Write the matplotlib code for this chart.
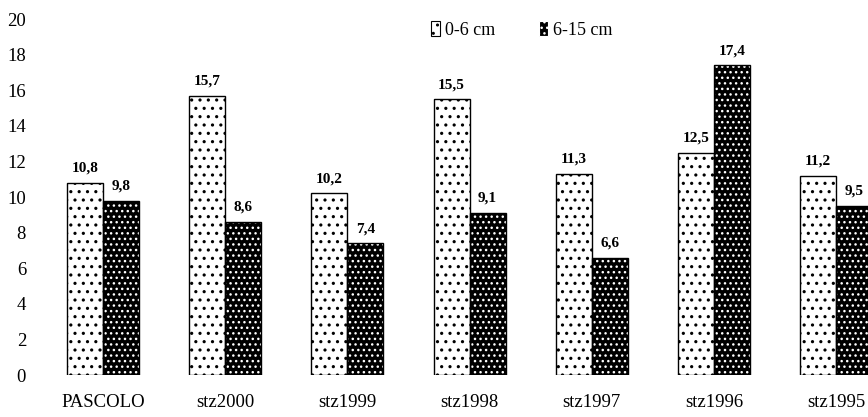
import matplotlib
matplotlib.use("Agg")
import matplotlib.pyplot as plt
import numpy as np
from matplotlib.patches import Patch

categories = ["PASCOLO", "stz2000", "stz1999", "stz1998", "stz1997", "stz1996", "stz1995"]
shallow = [10.8, 15.7, 10.2, 15.5, 11.3, 12.5, 11.2]   # 0-6 cm
deep = [9.8, 8.6, 7.4, 9.1, 6.6, 17.4, 9.5]            # 6-15 cm
labels = ["0-6 cm", "6-15 cm"]

plt.rcParams['font.family'] = ['Liberation Serif', 'DejaVu Serif']

fig = plt.figure(figsize=(8.68, 4.17), dpi=100)
ax = fig.add_axes([40/868, 42/417, 828/868, 356/417])

x = np.arange(len(categories))
w = 0.295

# light bars: white with small black dots
plt.rcParams['hatch.linewidth'] = 1.1
ax.bar(x - w/2, shallow, w, color="white", edgecolor="black", hatch="..", linewidth=0)
h1 = Patch(facecolor="white", edgecolor="black", hatch="..", linewidth=0.8)
# dark bars: black with white dashes
plt.rcParams['hatch.linewidth'] = 1.0
ax.bar(x + w/2, deep, w, color="black", edgecolor="white", hatch="...", linewidth=0)
h2 = Patch(facecolor="black", edgecolor="white", hatch="...", linewidth=0.8)
# outlines
ax.bar(x - w/2, shallow, w, fill=False, edgecolor="black", linewidth=1.0)
ax.bar(x + w/2, deep, w, fill=False, edgecolor="black", linewidth=1.0)

for i in range(len(categories)):
    ax.text(x[i] - w/2, shallow[i] + 0.45, f"{shallow[i]:.1f}".replace(".", ","),
            ha="center", va="bottom", fontsize=11, fontweight="bold")
    ax.text(x[i] + w/2, deep[i] + 0.45, f"{deep[i]:.1f}".replace(".", ","),
            ha="center", va="bottom", fontsize=11, fontweight="bold")

ax.legend([h1, h2], labels, loc="upper left", bbox_to_anchor=(0.452, 1.04), ncol=2,
          frameon=False, fontsize=13, handlelength=0.5, handleheight=0.9,
          handletextpad=0.3, columnspacing=2.4)

ax.set_xlim((40 - 103) / 122.2, (868 - 103) / 122.2)
ax.set_ylim(0, 20)
ax.set_yticks(np.arange(0, 21, 2))
ax.set_xticks(x)
ax.set_xticklabels(categories)
ax.tick_params(axis="both", length=0, labelsize=13.5)
ax.tick_params(axis="y", pad=10)
ax.tick_params(axis="x", pad=14)
for s in ax.spines.values():
    s.set_visible(False)

fig.savefig("out.png", dpi=100)
